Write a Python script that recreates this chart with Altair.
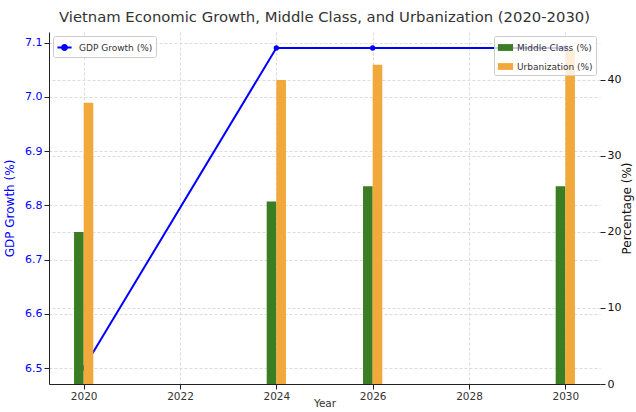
import altair as alt
import pandas as pd

years = [2020, 2024, 2026, 2030]
gdp_growth = [6.5, 7.09, 7.09, 7.09]
middle_class = [20, 24, 26, 26]
urbanization = [37, 40, 42, 44]
x_ticks = [2020, 2022, 2024, 2026, 2028, 2030]
left_ticks = [6.5, 6.6, 6.7, 6.8, 6.9, 7.0, 7.1]
right_ticks = [0, 10, 20, 30, 40]

FONT = "DejaVu Sans"

line_df = pd.DataFrame({"Year": years, "GDP": gdp_growth, "s": ["GDP Growth (%)"] * len(years)})
bar_df = pd.DataFrame({
    "Year": years * 2,
    "Value": middle_class + urbanization,
    "Series": ["Middle Class (%)"] * len(years) + ["Urbanization (%)"] * len(years),
})

xscale = alt.Scale(domain=[2019.28, 2030.72], nice=False, zero=False)
xaxis = alt.Axis(values=x_ticks, format="d", title="Year", grid=True, gridDash=[3, 2],
                 gridColor="#dcdcdc", labelFontSize=10.5, titleFontSize=10.5, labelColor="#333",
                 titleColor="#333", domainColor="#222", tickColor="#222",
                 titleY=14, titleBaseline="top",
                 labelFlush=False, titleFontWeight="normal")

line_symbol = "M-1,0L1,0M0.35,0A0.35,0.35 0 1,1 -0.35,0A0.35,0.35 0 1,1 0.35,0Z"
rect_symbol = "M-1,-0.45L1,-0.45L1,0.45L-1,0.45Z"

line = alt.Chart(line_df).mark_line(point=alt.OverlayMarkDef(filled=True, size=28), strokeWidth=2).encode(
    x=alt.X("Year:Q", scale=xscale, axis=xaxis),
    y=alt.Y("GDP:Q", scale=alt.Scale(domain=[6.4705, 7.1195], nice=False, zero=False),
            axis=alt.Axis(orient="left", values=left_ticks, format=".1f", title="GDP Growth (%)",
                          labelColor="#0000ff", titleColor="#0000ff", labelFontSize=11,
                          titleFontSize=12, titleFontWeight="normal", grid=True, gridDash=[3, 2],
                          gridColor="#dcdcdc", domainColor="#222", tickColor="#222", titlePadding=8)),
    color=alt.Color("s:N", scale=alt.Scale(domain=["GDP Growth (%)"], range=["#0000ff"]),
                    legend=alt.Legend(title=None, orient="top-left", offset=4, symbolType=line_symbol,
                                      symbolSize=200, symbolStrokeWidth=2, labelFontSize=9,
                                      padding=3, fillColor="rgba(255,255,255,0.8)", strokeColor="#ccc",
                                      cornerRadius=2, labelColor="#333", labelOffset=6)),
)

bars = alt.Chart(bar_df).transform_calculate(
    x0="datum.Series == 'Middle Class (%)' ? datum.Year - 0.2 : datum.Year",
    x1="datum.Series == 'Middle Class (%)' ? datum.Year : datum.Year + 0.2",
).mark_bar().encode(
    x=alt.X("x0:Q", scale=xscale, axis=xaxis),
    x2="x1:Q",
    y=alt.Y("Value:Q", scale=alt.Scale(domain=[0, 46.3], nice=False),
            axis=alt.Axis(orient="right", values=right_ticks, title="Percentage (%)",
                          labelColor="#111", titleColor="#111", labelFontSize=11, titleFontSize=12,
                          titleFontWeight="normal", grid=True, gridDash=[3, 2], gridColor="#dcdcdc",
                          domain=False, tickColor="#222", titleAngle=270, titleX=26, titleY=176,
                          titleAlign="center", titleBaseline="middle")),
    y2=alt.datum(0),
    color=alt.Color("Series:N", scale=alt.Scale(domain=["Middle Class (%)", "Urbanization (%)"],
                                                 range=["#3a7d22", "#f2a93c"]),
                    legend=alt.Legend(title=None, orient="top-right", offset=4, symbolType=rect_symbol,
                                      symbolSize=230, labelFontSize=9, padding=3, rowPadding=5,
                                      fillColor="rgba(255,255,255,0.8)", strokeColor="#ccc",
                                      cornerRadius=2, labelColor="#333", labelOffset=3)),
)

chart = alt.layer(line, bars).resolve_scale(y="independent", color="independent").properties(
    width=551, height=352,
    title=alt.Title("Vietnam Economic Growth, Middle Class, and Urbanization (2020-2030)",
                    fontSize=14.8, fontWeight="normal", color="#333", offset=7, font=FONT),
    autosize=alt.AutoSizeParams(type="none"),
    padding={"left": 49, "top": 32, "right": 36, "bottom": 28},
).configure(font=FONT).configure_view(stroke=None)

chart.save("out.html", embed_options={"renderer": "svg", "actions": False})
